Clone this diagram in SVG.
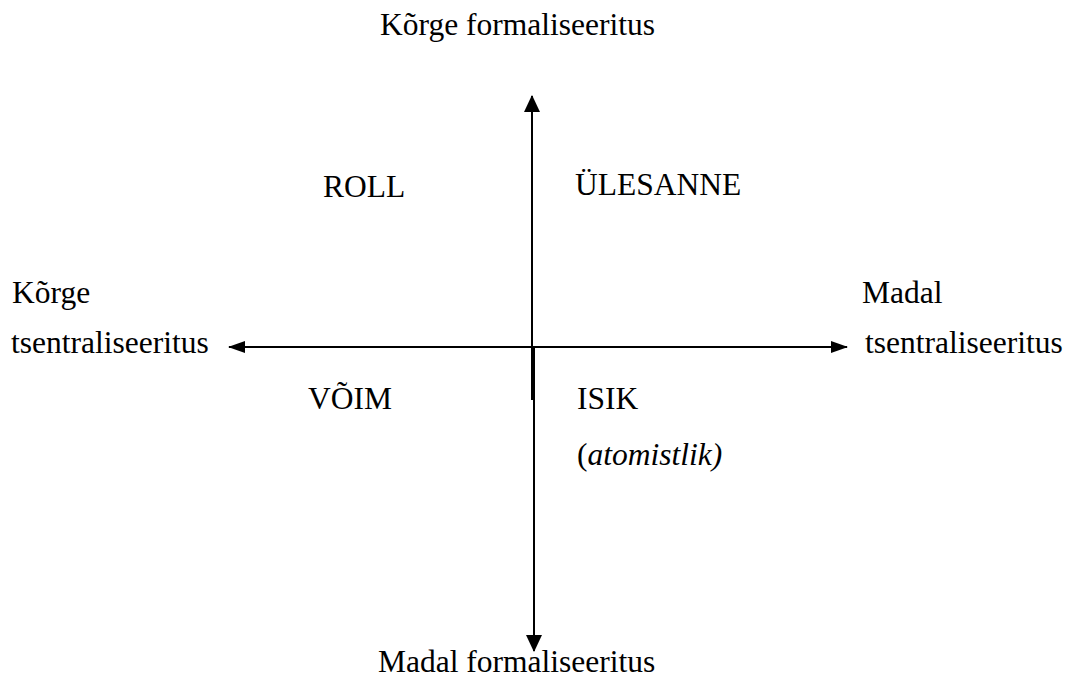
<svg xmlns="http://www.w3.org/2000/svg" width="1068" height="677" viewBox="0 0 1068 677">
<style>
text{font-family:"Liberation Serif","Times New Roman",serif;font-size:31.5px;fill:#000}
.ax{stroke:#000;stroke-width:2;fill:none}
.v{marker-end:url(#av)}
.h{marker-end:url(#ah)}
</style>
<defs>
<marker id="av" viewBox="0 0 17 16" refX="16" refY="8" markerWidth="17" markerHeight="16" markerUnits="userSpaceOnUse" orient="auto">
<path d="M0,0 L17,8 L0,16 Z" fill="#000"/>
</marker>
<marker id="ah" viewBox="0 0 17 12" refX="16" refY="6" markerWidth="17" markerHeight="12" markerUnits="userSpaceOnUse" orient="auto">
<path d="M0,0 L17,6 L0,12 Z" fill="#000"/>
</marker>
</defs>
<rect width="1068" height="677" fill="#fff"/>
<g id="connectors">
<line class="ax v" x1="532" y1="400" x2="532" y2="96"/>
<line class="ax v" x1="534" y1="347" x2="534" y2="651"/>
<line class="ax h" x1="540" y1="347" x2="229" y2="347"/>
<line class="ax h" x1="530" y1="347" x2="847" y2="347"/>
</g>
<g id="top"><text x="380" y="35">Kõrge formaliseeritus</text></g>
<g id="bottom"><text x="378" y="672">Madal formaliseeritus</text></g>
<g id="left"><text x="12" y="303">Kõrge</text><text x="11" y="353">tsentraliseeritus</text></g>
<g id="right"><text x="862" y="303">Madal</text><text x="865" y="353">tsentraliseeritus</text></g>
<g id="roll"><text x="323" y="197">ROLL</text></g>
<g id="ulesanne"><text x="575" y="195">ÜLESANNE</text></g>
<g id="voim"><text x="308" y="409">VÕIM</text></g>
<g id="isik"><text x="577" y="409">ISIK</text><text x="577" y="465">(<tspan font-style="italic">atomistlik)</tspan></text></g>
</svg>
